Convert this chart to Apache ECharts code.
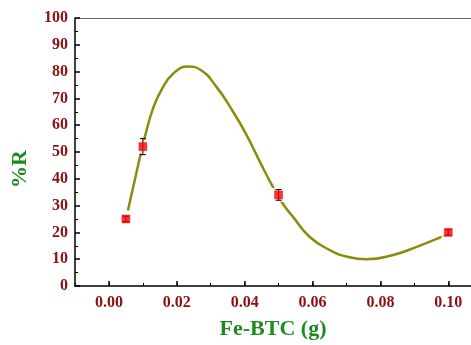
<!DOCTYPE html>
<html>
<head>
<meta charset="utf-8">
<script src="https://cdn.jsdelivr.net/npm/echarts@6/dist/echarts.min.js"></script>
<style>
html,body{margin:0;padding:0;background:#fff;}
#chart{width:471px;height:345px;}
</style>
</head>
<body>
<div id="chart"></div>
<script>
// Measured points
const pointX = [0.005, 0.01, 0.05, 0.1];
const pointY = [25, 52, 34, 20];
const pointErr = [1, 3, 2, 1];
// Fitted curve
const curveX = [0.0056, 0.00876, 0.0105, 0.0130, 0.01545, 0.0189, 0.0233, 0.0268, 0.0317, 0.0366, 0.0405, 0.0445, 0.0484, 0.0513, 0.0543, 0.0592, 0.0651, 0.07, 0.0759, 0.0838, 0.0907, 0.0976, 0.0995];
const curveY = [28.2, 46.0, 55.2, 66.3, 73.1, 79.2, 81.9, 80.8, 74.3, 65.0, 56.5, 46.3, 36.8, 30.6, 25.7, 18.3, 13.4, 11.0, 10.0, 11.6, 14.6, 18.1, 19.3];
const yTicks = [0, 10, 20, 30, 40, 50, 60, 70, 80, 90, 100];

const serif = '"Liberation Serif", "Times New Roman", serif';
const red = '#8b1010';
const green = '#1f8a1f';

const chart = echarts.init(document.getElementById('chart'), null, {renderer: 'canvas'});
const curveData = curveX.map((x, i) => [x, curveY[i]]);
const pointData = pointX.map((x, i) => [x, pointY[i]]);
const errData = pointX.map((x, i) => [x, pointY[i] - pointErr[i], pointY[i] + pointErr[i]]);

chart.setOption({
  animation: false,
  backgroundColor: '#fff',
  grid: {left: 75, top: 18, right: 0, bottom: 57, containLabel: false},
  xAxis: [
    {
      type: 'value', min: -0.01, max: 0.1067, splitNumber: 5,
      position: 'bottom',
      axisLine: {show: true, onZero: false, lineStyle: {color: '#000', width: 1.5}},
      axisTick: {show: true, inside: true, length: 5, lineStyle: {color: '#000', width: 1.5}},
      axisLabel: {
        show: true, margin: 9, showMinLabel: false, showMaxLabel: false,
        color: red, fontFamily: serif, fontWeight: 'bold', fontSize: 16,
        formatter: v => v.toFixed(2)
      },
      splitLine: {show: false},
      name: 'Fe-BTC (g)', nameLocation: 'middle', nameGap: 32,
      nameTextStyle: {color: green, fontFamily: serif, fontWeight: 'bold', fontSize: 22}
    },
    {
      type: 'value', min: -0.01, max: 0.1067, interval: 0.01,
      position: 'bottom',
      axisLine: {show: false, onZero: false},
      axisTick: {show: true, inside: true, length: 3, lineStyle: {color: '#000', width: 1}},
      axisLabel: {show: false},
      splitLine: {show: false}
    },
    {
      type: 'value', min: -0.01, max: 0.1067,
      position: 'top',
      axisLine: {show: true, onZero: false, lineStyle: {color: '#666', width: 1}},
      axisTick: {show: false},
      axisLabel: {show: false},
      splitLine: {show: false}
    }
  ],
  yAxis: [{
    type: 'value', min: 0, max: 100, interval: 10,
    position: 'left',
    axisLine: {show: true, onZero: false, lineStyle: {color: '#000', width: 1.5}},
    axisTick: {show: true, inside: true, length: 5, lineStyle: {color: '#000', width: 1.5}},
    minorTick: {show: true, splitNumber: 2, length: 3, lineStyle: {color: '#000', width: 1}},
    axisLabel: {
      margin: 7, color: red, fontFamily: serif, fontWeight: 'bold', fontSize: 16,
      formatter: v => yTicks.includes(v) ? String(v) : ''
    },
    splitLine: {show: false}
  }],
  graphic: [{
    type: 'text', left: 9, top: 150,
    rotation: Math.PI / 2,
    style: {text: '%R', fill: green, font: 'bold 22px ' + serif}
  }],
  series: [
    {
      type: 'line', data: curveData, smooth: 0.5, showSymbol: false,
      lineStyle: {color: '#8c8c0c', width: 2.5}, z: 1, silent: true
    },
    {
      type: 'scatter', data: pointData, symbol: 'rect', symbolSize: 14,
      itemStyle: {color: '#ffffff'}, z: 2, silent: true
    },
    {
      type: 'custom', z: 3, data: errData,
      renderItem: function (params, api) {
        const x = api.value(0);
        const lo = api.coord([x, api.value(1)]);
        const hi = api.coord([x, api.value(2)]);
        const cw = 3;
        const st = {stroke: '#000', lineWidth: 1};
        return {type: 'group', children: [
          {type: 'line', shape: {x1: lo[0], y1: lo[1], x2: hi[0], y2: hi[1]}, style: st},
          {type: 'line', shape: {x1: lo[0] - cw, y1: lo[1], x2: lo[0] + cw, y2: lo[1]}, style: st},
          {type: 'line', shape: {x1: hi[0] - cw, y1: hi[1], x2: hi[0] + cw, y2: hi[1]}, style: st}
        ]};
      }
    },
    {
      type: 'scatter', data: pointData, symbol: 'rect', symbolSize: 8,
      itemStyle: {color: '#ff0000', borderColor: '#d00000', borderWidth: 0.5}, z: 4
    }
  ]
});
</script>
</body>
</html>
